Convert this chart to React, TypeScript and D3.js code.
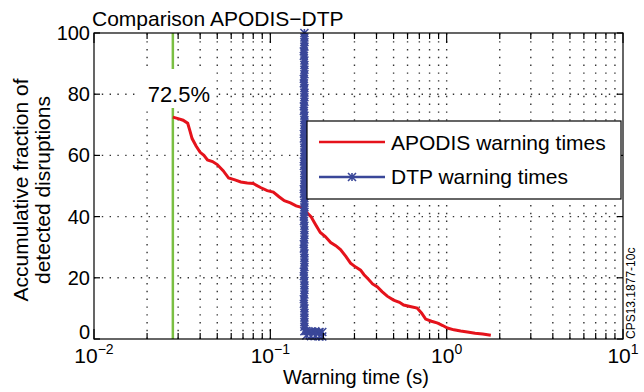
import React, { useRef, useEffect } from "react";
import * as d3 from "d3";

// APODIS warning times (s) and accumulated fraction (%)
const apodisTime = [
  0.028, 0.03, 0.032, 0.034, 0.035, 0.036, 0.038, 0.04, 0.042, 0.044, 0.047, 0.05, 0.054, 0.058,
  0.063, 0.068, 0.074, 0.08, 0.088, 0.096, 0.104, 0.112, 0.12, 0.13, 0.14, 0.15, 0.16, 0.17, 0.18,
  0.192, 0.205, 0.22, 0.235, 0.25, 0.268, 0.285, 0.305, 0.325, 0.34, 0.36, 0.38, 0.405, 0.43, 0.46,
  0.5, 0.54, 0.57, 0.62, 0.68, 0.72, 0.76, 0.82, 0.89, 0.95, 1.01, 1.1, 1.2, 1.31, 1.45, 1.6, 1.78,
];
const apodisFrac = [
  72.5, 72, 71.5, 70.5, 68, 65.5, 63, 61, 60, 58.5, 58, 57, 55, 52.6, 52, 51.3, 51, 50.8, 49.5, 48.5,
  48, 46.5, 45.2, 44.5, 43.5, 43, 41.5, 40, 37.5, 34.8, 33.5, 31.5, 30.5, 29.2, 27, 24.8, 23.5, 22.5,
  21, 19.5, 18, 17, 15.5, 14, 12.7, 12, 11.1, 10.6, 10.1, 8.5, 6.5, 5.8, 5.2, 4.4, 3.6, 3.0, 2.6, 2.3,
  1.9, 1.6, 1.2,
];

// DTP warning times (s) and accumulated fraction (%)
const dtpTime = [
  0.156, 0.156, 0.155, 0.156, 0.156, 0.155, 0.156, 0.156, 0.155, 0.156, 0.156, 0.155, 0.156, 0.156,
  0.155, 0.156, 0.156, 0.155, 0.156, 0.156, 0.155, 0.156, 0.156, 0.155, 0.156, 0.156, 0.155, 0.156,
  0.156, 0.155, 0.156, 0.156, 0.156, 0.16, 0.17, 0.18, 0.19, 0.197,
];
const dtpFrac = [
  100, 97, 94, 91, 88, 85, 82, 79, 76, 73, 70, 67, 64, 61, 58, 55, 52, 49, 46, 43, 40, 37, 34, 31, 28,
  25, 22, 19, 16, 13, 10, 7, 4, 2.6, 2.4, 2.5, 2.3, 2.3,
];

const thresholdTime = 0.028;
const thresholdLabel = "72.5%";

const xTickExps = [-2, -1, 0, 1];
const yTicks = [0, 20, 40, 60, 80, 100];

const RED = "#e5121b";
const BLUE = "#3a4799";
const GREEN = "#7abf43";
const FONT = "'Liberation Sans', Arial, sans-serif";

export default function App() {
  const svgRef = useRef<SVGSVGElement>(null);

  useEffect(() => {
    const W = 644, H = 392;
    const left = 94, right = 623, top = 33, bottom = 339;
    const svg = d3.select(svgRef.current);
    svg.selectAll("*").remove();
    svg.attr("width", W).attr("height", H);

    const x = d3.scaleLog().domain([0.01, 10]).range([left, right]);
    const y = d3.scaleLinear().domain([0, 100]).range([bottom, top]);

    svg.append("rect").attr("width", W).attr("height", H).attr("fill", "#fff");

    // grid
    const grid = svg.append("g").attr("stroke", "#333").attr("stroke-width", 1.4)
      .attr("stroke-dasharray", "1.4,6.4");
    const minor: number[] = [];
    for (let e = -2; e < 1; e++) for (let m = 1; m <= 9; m++) minor.push(m * Math.pow(10, e));
    minor.push(10);
    minor.filter((v) => v > 0.01 && v < 10).forEach((v) => {
      grid.append("line").attr("x1", x(v)).attr("x2", x(v)).attr("y1", bottom).attr("y2", top);
    });
    yTicks.filter((v) => v > 0 && v < 100).forEach((v) => {
      grid.append("line").attr("x1", left).attr("x2", right).attr("y1", y(v)).attr("y2", y(v));
    });

    // threshold green line with gap for label
    const gx = x(thresholdTime);
    svg.append("line").attr("x1", gx).attr("x2", gx).attr("y1", top).attr("y2", 69)
      .attr("stroke", GREEN).attr("stroke-width", 2.5);
    svg.append("line").attr("x1", gx).attr("x2", gx).attr("y1", 108).attr("y2", bottom)
      .attr("stroke", GREEN).attr("stroke-width", 2.5);
    svg.append("rect").attr("x", gx - 36).attr("y", 70).attr("width", 78).attr("height", 37)
      .attr("fill", "#fff");
    svg.append("text").attr("x", gx + 6).attr("y", y(80) + 8).attr("text-anchor", "middle")
      .attr("font-family", FONT).attr("font-size", 22).text(thresholdLabel);

    // APODIS
    const apodis = apodisTime.map((t, i) => [t, apodisFrac[i]] as [number, number]);
    const line = d3.line<[number, number]>().x((d) => x(d[0])).y((d) => y(d[1]));
    svg.append("path").attr("d", line(apodis)!)
      .attr("fill", "none").attr("stroke", RED).attr("stroke-width", 3)
      .attr("stroke-linejoin", "miter");

    // DTP
    const dtp = dtpTime.map((t, i) => [t, dtpFrac[i]] as [number, number]);
    svg.append("path").attr("d", line(dtp)!)
      .attr("fill", "none").attr("stroke", BLUE).attr("stroke-width", 6);
    const marker = (g: any, cx: number, cy: number) => {
      const s = 4;
      g.append("path")
        .attr("d", `M${cx - s},${cy - s}L${cx + s},${cy + s}M${cx - s},${cy + s}L${cx + s},${cy - s}M${cx},${cy - s}L${cx},${cy + s}`)
        .attr("stroke", BLUE).attr("stroke-width", 1.6).attr("fill", "none");
    };
    const mg = svg.append("g");
    dtp.forEach((d) => {
      marker(mg, x(d[0]), y(d[1]));
      marker(mg, x(d[0]), y(d[1]) + 4.5);
    });

    // axes box
    svg.append("rect").attr("x", left).attr("y", top).attr("width", right - left).attr("height", bottom - top)
      .attr("fill", "none").attr("stroke", "#000").attr("stroke-width", 1.2);

    // ticks
    const tk = svg.append("g").attr("stroke", "#000").attr("stroke-width", 1.2);
    minor.forEach((v) => {
      const isMajor = Math.abs(Math.log10(v) - Math.round(Math.log10(v))) < 1e-9;
      const len = isMajor ? 10 : 6;
      tk.append("line").attr("x1", x(v)).attr("x2", x(v)).attr("y1", bottom).attr("y2", bottom - len);
      tk.append("line").attr("x1", x(v)).attr("x2", x(v)).attr("y1", top).attr("y2", top + len);
    });
    yTicks.forEach((v) => {
      tk.append("line").attr("x1", left).attr("x2", left + 6).attr("y1", y(v)).attr("y2", y(v));
      tk.append("line").attr("x1", right).attr("x2", right - 6).attr("y1", y(v)).attr("y2", y(v));
    });

    // tick labels (the bottom one sits on the axis line, as in the source)
    yTicks.forEach((v) => {
      svg.append("text").attr("x", left - 4).attr("y", v === 0 ? y(v) : y(v) + 7).attr("text-anchor", "end")
        .attr("font-family", FONT).attr("font-size", 20).text(String(v));
    });
    xTickExps.forEach((e) => {
      const t = svg.append("text").attr("x", x(Math.pow(10, e))).attr("y", bottom + 24)
        .attr("text-anchor", "middle").attr("font-family", FONT).attr("font-size", 21);
      t.append("tspan").text("10");
      t.append("tspan").attr("dy", -9).attr("font-size", 14).text(e < 0 ? `\u2212${-e}` : String(e));
    });

    // labels
    svg.append("text").attr("x", left - 2).attr("y", 26).attr("font-family", FONT)
      .attr("font-size", 21).text("Comparison APODIS\u2212DTP");
    svg.append("text").attr("x", 356).attr("y", 384).attr("text-anchor", "middle")
      .attr("font-family", FONT).attr("font-size", 20).text("Warning time (s)");
    const yl = svg.append("text").attr("transform", `translate(28,190) rotate(-90)`)
      .attr("text-anchor", "middle").attr("font-family", FONT).attr("font-size", 21);
    yl.append("tspan").attr("x", 0).attr("dy", 0).text("Accumulative fraction of");
    yl.append("tspan").attr("x", 0).attr("dy", 22).text("detected disruptions");
    svg.append("text").attr("transform", `translate(635,339) rotate(-90)`)
      .attr("font-family", FONT).attr("font-size", 12).text("CPS13.1877-10c");

    // legend
    const lg = svg.append("g");
    lg.append("rect").attr("x", 307).attr("y", 121).attr("width", 314).attr("height", 78)
      .attr("fill", "#fff").attr("stroke", "#000").attr("stroke-width", 1.2);
    lg.append("line").attr("x1", 319).attr("x2", 385).attr("y1", 142).attr("y2", 142)
      .attr("stroke", RED).attr("stroke-width", 2.6);
    lg.append("text").attr("x", 391).attr("y", 150).attr("font-family", FONT).attr("font-size", 21)
      .text("APODIS warning times");
    lg.append("line").attr("x1", 319).attr("x2", 385).attr("y1", 177).attr("y2", 177)
      .attr("stroke", BLUE).attr("stroke-width", 2.6);
    marker(lg, 352, 177);
    lg.append("text").attr("x", 391).attr("y", 184).attr("font-family", FONT).attr("font-size", 21)
      .text("DTP warning times");
  }, []);

  return <svg ref={svgRef} style={{ position: "absolute", left: 0, top: 0 }}></svg>;
}
